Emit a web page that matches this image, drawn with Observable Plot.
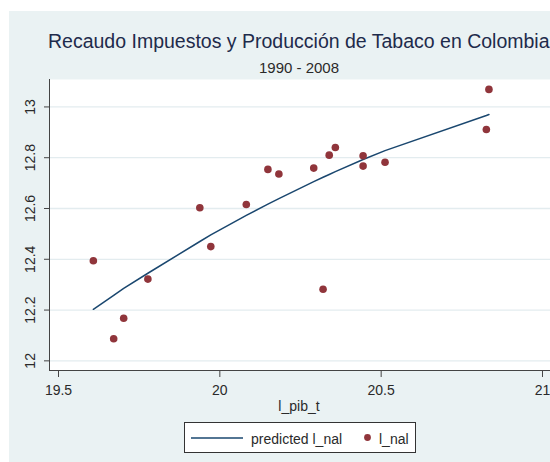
<!DOCTYPE html>
<html>
<head>
<meta charset="utf-8">
<script src="https://cdn.jsdelivr.net/npm/d3@7"></script>
<script src="https://cdn.jsdelivr.net/npm/@observablehq/plot@0.6"></script>
<style>
html, body { margin: 0; padding: 0; background: #ffffff; overflow: hidden; }
#wrap { position: relative; width: 550px; height: 462px; overflow: hidden; background: #ffffff;
        font-family: "Liberation Sans", Arial, sans-serif; }
#chart { position: absolute; left: 9px; top: 11px; width: 560px; height: 451px; }
#chart svg { max-width: none !important; }
#overlay { position: absolute; left: 0; top: 0; width: 550px; height: 462px; pointer-events: none; }
#legend { position: absolute; left: 184px; top: 422px; width: 232px; height: 31px; box-sizing: border-box;
          border: 1px solid #333; background: #ffffff; }
</style>
</head>
<body>
<div id="wrap">
  <div id="chart"></div>
  <svg id="overlay" width="550" height="462" font-family="Liberation Sans, Arial, sans-serif">
    <text id="title" x="48" y="48" font-size="19.5" fill="#1e2b4b"></text>
    <text id="subtitle" x="299" y="73" font-size="15" text-anchor="middle" fill="#2a2a2a"></text>
    <text id="xlabel" x="299" y="411" font-size="14" text-anchor="middle" fill="#2a2a2a"></text>
  </svg>
  <div id="legend">
    <svg width="230" height="29" font-family="Liberation Sans, Arial, sans-serif">
      <line x1="6" x2="58" y1="15" y2="15" stroke="#1A476F" stroke-width="1.5"></line>
      <text id="leg1" x="66" y="20.5" font-size="14" fill="#2a2a2a"></text>
      <circle cx="182.5" cy="14.5" r="3.4" fill="#90353B"></circle>
      <text id="leg2" x="194" y="20.5" font-size="14" fill="#2a2a2a"></text>
    </svg>
  </div>
</div>
<script>
// ---- texts ----
const titleText = "Recaudo Impuestos y Producción de Tabaco en Colombia";
const subtitleText = "1990 - 2008";
const xLabelText = "l_pib_t";
const legendLabels = ["predicted l_nal", "l_nal"];

// ---- ticks ----
const xTicks = [19.5, 20, 20.5, 21];
const yTicks = [12, 12.2, 12.4, 12.6, 12.8, 13];

// ---- observed data (l_pib_t, l_nal) ----
const obsX = [19.608, 19.671, 19.702, 19.777, 19.938, 19.972, 20.082, 20.149, 20.183,
              20.291, 20.320, 20.339, 20.358, 20.444, 20.444, 20.512, 20.826, 20.834];
const obsY = [12.394, 12.087, 12.168, 12.322, 12.603, 12.450, 12.616, 12.754, 12.736,
              12.759, 12.282, 12.810, 12.840, 12.808, 12.767, 12.782, 12.911, 13.069];

// ---- predicted l_nal ----
const predX = [19.608, 19.671, 19.702, 19.777, 19.938, 19.972, 20.082, 20.149, 20.183,
               20.291, 20.320, 20.339, 20.358, 20.444, 20.512, 20.826, 20.834];
const predY = [12.203, 12.258, 12.285, 12.345, 12.470, 12.496, 12.573, 12.617, 12.639,
               12.706, 12.723, 12.734, 12.745, 12.793, 12.828, 12.966, 12.970];

const obs = obsX.map((x, i) => ({x, y: obsY[i]}));
const pred = predX.map((x, i) => ({x, y: predY[i]}));

document.getElementById("title").textContent = titleText;
document.getElementById("subtitle").textContent = subtitleText;
document.getElementById("xlabel").textContent = xLabelText;
document.getElementById("leg1").textContent = legendLabels[0];
document.getElementById("leg2").textContent = legendLabels[1];

const xDomain = [19.4721, 21.0248];
const yDomain = [11.962, 13.108];
const axisColor = "#444";
const fmt = d => String(d);

const chart = Plot.plot({
  width: 560,
  height: 451,
  marginLeft: 40,
  marginRight: 19,
  marginTop: 68,
  marginBottom: 92,
  style: {background: "#EAF2F3", fontFamily: "Liberation Sans, Arial, sans-serif", fontSize: "14px", color: "#2a2a2a", maxWidth: "none"},
  x: {domain: xDomain},
  y: {domain: yDomain},
  marks: [
    Plot.frame({fill: "white", stroke: null}),
    Plot.gridY(yTicks, {stroke: "#E3ECEF", strokeOpacity: 1, strokeWidth: 1.3}),
    Plot.ruleX([xDomain[0]], {stroke: axisColor, strokeWidth: 1}),
    Plot.ruleY([yDomain[0]], {stroke: axisColor, strokeWidth: 1}),
    Plot.axisY(yTicks, {tickSize: 5, tickPadding: 9.5, tickRotate: -90, tickFormat: fmt, fontSize: 14, stroke: axisColor, fill: "#2a2a2a", label: null}),
    Plot.axisX(xTicks, {tickSize: 7, tickPadding: 8, tickFormat: fmt, fontSize: 14, stroke: axisColor, fill: "#2a2a2a", label: null}),
    Plot.line(pred, {x: "x", y: "y", stroke: "#1A476F", strokeWidth: 1.5}),
    Plot.dot(obs, {x: "x", y: "y", r: 3.8, fill: "#90353B", stroke: null})
  ]
});
document.getElementById("chart").appendChild(chart);
</script>
</body>
</html>
